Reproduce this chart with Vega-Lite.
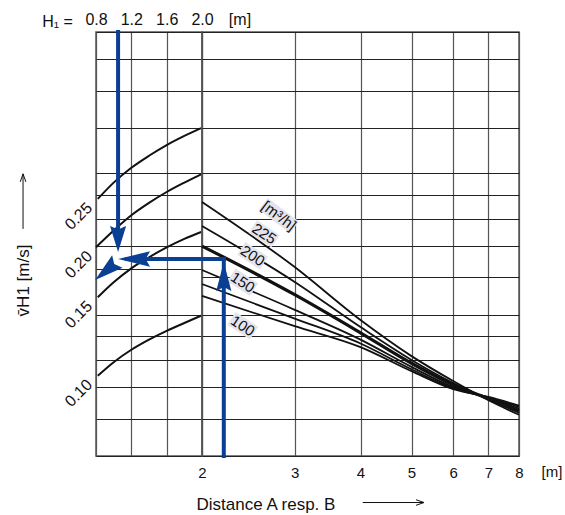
{
  "$schema": "https://vega.github.io/schema/vega-lite/v6.json",
  "background": "white",
  "padding": {"left": 13, "top": 10, "right": 5, "bottom": 5},
  "spacing": 0,
  "bounds": "flush",
  "config": {
    "font": "Liberation Sans",
    "view": {"stroke": "#555", "strokeWidth": 1.5},
    "axis": {"gridColor": "#222", "gridWidth": 1, "labelColor": "#111", "titleColor": "#111", "titleFontWeight": "normal", "tickCount": 40}
  },
  "datasets": {
    "left_curves": [
      {"c": "0.25", "h": 0.82, "v": 0.1764}, {"c": "0.25", "h": 1.0, "v": 0.1911}, {"c": "0.25", "h": 1.2, "v": 0.2055}, {"c": "0.25", "h": 1.4, "v": 0.218}, {"c": "0.25", "h": 1.6, "v": 0.2297}, {"c": "0.25", "h": 1.8, "v": 0.2403}, {"c": "0.25", "h": 1.99, "v": 0.2497},
      {"c": "0.20", "h": 0.8, "v": 0.1392}, {"c": "0.20", "h": 1.0, "v": 0.1511}, {"c": "0.20", "h": 1.2, "v": 0.1628}, {"c": "0.20", "h": 1.4, "v": 0.173}, {"c": "0.20", "h": 1.6, "v": 0.1825}, {"c": "0.20", "h": 1.8, "v": 0.1911}, {"c": "0.20", "h": 1.99, "v": 0.199},
      {"c": "0.15", "h": 0.82, "v": 0.1089}, {"c": "0.15", "h": 1.0, "v": 0.1172}, {"c": "0.15", "h": 1.2, "v": 0.1255}, {"c": "0.15", "h": 1.4, "v": 0.1325}, {"c": "0.15", "h": 1.6, "v": 0.1391}, {"c": "0.15", "h": 1.8, "v": 0.145}, {"c": "0.15", "h": 1.99, "v": 0.15},
      {"c": "0.10", "h": 0.82, "v": 0.0741}, {"c": "0.10", "h": 1.0, "v": 0.0792}, {"c": "0.10", "h": 1.2, "v": 0.0842}, {"c": "0.10", "h": 1.4, "v": 0.0885}, {"c": "0.10", "h": 1.6, "v": 0.0924}, {"c": "0.10", "h": 1.8, "v": 0.096}, {"c": "0.10", "h": 1.99, "v": 0.0995}
    ],
    "left_labels": [
      {"t": "0.25", "h": 0.8, "v": 0.1764},
      {"t": "0.20", "h": 0.8, "v": 0.1392},
      {"t": "0.15", "h": 0.8, "v": 0.1089},
      {"t": "0.10", "h": 0.8, "v": 0.0741}
    ],
    "top_unit": [{"t": "[m]", "h": 2.43, "v": 0.4133}],
    "bottom_unit": [{"t": "[m]", "d": 9.24, "v": 0.045}],
    "right_curves": [
      {"q": 225, "d": 2, "v": 0.1738}, {"q": 225, "d": 3, "v": 0.1263}, {"q": 225, "d": 4, "v": 0.0974}, {"q": 225, "d": 5, "v": 0.0816}, {"q": 225, "d": 6, "v": 0.0722}, {"q": 225, "d": 7, "v": 0.0657}, {"q": 225, "d": 8, "v": 0.0612},
      {"q": 200, "d": 2, "v": 0.1545}, {"q": 200, "d": 3, "v": 0.1174}, {"q": 200, "d": 4, "v": 0.0941}, {"q": 200, "d": 5, "v": 0.0801}, {"q": 200, "d": 6, "v": 0.0715}, {"q": 200, "d": 7, "v": 0.066}, {"q": 200, "d": 8, "v": 0.0618},
      {"q": 175, "d": 2, "v": 0.14}, {"q": 175, "d": 3, "v": 0.1103}, {"q": 175, "d": 4, "v": 0.0915}, {"q": 175, "d": 5, "v": 0.0788}, {"q": 175, "d": 6, "v": 0.0709}, {"q": 175, "d": 7, "v": 0.0662}, {"q": 175, "d": 8, "v": 0.0624},
      {"q": 150, "d": 2, "v": 0.1245}, {"q": 150, "d": 3, "v": 0.1024}, {"q": 150, "d": 4, "v": 0.0885}, {"q": 150, "d": 5, "v": 0.0774}, {"q": 150, "d": 6, "v": 0.0701}, {"q": 150, "d": 7, "v": 0.0665}, {"q": 150, "d": 8, "v": 0.0631},
      {"q": 125, "d": 2, "v": 0.1162}, {"q": 125, "d": 3, "v": 0.0981}, {"q": 125, "d": 4, "v": 0.0868}, {"q": 125, "d": 5, "v": 0.0765}, {"q": 125, "d": 6, "v": 0.0697}, {"q": 125, "d": 7, "v": 0.0666}, {"q": 125, "d": 8, "v": 0.0636},
      {"q": 100, "d": 2, "v": 0.1096}, {"q": 100, "d": 3, "v": 0.0945}, {"q": 100, "d": 4, "v": 0.0853}, {"q": 100, "d": 5, "v": 0.0758}, {"q": 100, "d": 6, "v": 0.0694}, {"q": 100, "d": 7, "v": 0.0668}, {"q": 100, "d": 8, "v": 0.064}
    ],
    "qlabels": [
      {"t": "225", "d": 2.626, "v": 0.1486},
      {"t": "200", "d": 2.496, "v": 0.1335},
      {"t": "150", "d": 2.39, "v": 0.1172},
      {"t": "100", "d": 2.39, "v": 0.0947}
    ],
    "qunit": [{"t": "[m³/h]", "d": 2.8, "v": 0.1625}],
    "blue_left": [
      {"h": 1.05, "h2": 1.05, "v": 0.4, "v2": 0.142},
      {"h": 1.15, "h2": 2.0, "v": 0.1314, "v2": 0.1314}
    ],
    "blue_right": [
      {"d": 2.2, "d2": 2.2, "v": 0.05, "v2": 0.1314},
      {"d": 2.0, "d2": 2.2, "v": 0.1314, "v2": 0.1314}
    ],
    "head_down": [{"h": 1.05, "v": 0.136}],
    "head_left": [{"h": 1.05, "v": 0.1314}],
    "head_diag": [{"h": 0.79, "v": 0.1185}],
    "head_up": [{"d": 2.2, "v": 0.1295}],
    "ytitle_arrow": [{"h": -0.026, "v": 0.1523, "v2": 0.1995}],
    "ytitle_tip": [{"h": -0.026, "v": 0.1995}],
    "xtitle_arrow": [{"d": 4.04, "d2": 5.28, "v": 0.0398}],
    "xtitle_tip": [{"d": 5.28, "v": 0.0398}]
  },
  "hconcat": [
    {
      "width": 106,
      "height": 424,
      "layer": [
        {
          "data": {"name": "left_curves"},
          "mark": {"type": "line", "color": "#111", "strokeWidth": 2, "interpolate": "monotone"},
          "encoding": {
            "x": {
              "field": "h", "type": "quantitative",
              "scale": {"domain": [0.8, 2.0], "nice": false, "zero": false},
              "axis": {
                "orient": "top", "values": [0.8, 1.2, 1.6, 2.0], "tickCount": 40,
                "labelExpr": "format(datum.value, '.1f')",
                "grid": true, "gridColor": "#555", "gridWidth": 1.2,
                "ticks": false, "domain": false, "labelPadding": 5, "labelFontSize": 16,
                "labelOverlap": false, "labelFlush": false,
                "title": "H₁ =", "titleFontSize": 16, "titleX": -39, "titleY": -6,
                "titleAlign": "center", "titleBaseline": "alphabetic"
              }
            },
            "y": {
              "field": "v", "type": "quantitative",
              "scale": {"type": "log", "domain": [0.05, 0.4], "nice": false},
              "axis": {
                "values": [0.05, 0.06, 0.07, 0.08, 0.09, 0.1, 0.125, 0.14, 0.16, 0.18, 0.2, 0.25, 0.3, 0.35, 0.4], "tickCount": 40,
                "grid": true, "labels": false, "ticks": false, "domain": false,
                "title": "v̄H1   [m/s]", "titleFontSize": 17, "titleAngle": 270,
                "titleX": -73, "titleY": 248, "titleAlign": "center", "titleBaseline": "middle"
              }
            },
            "detail": {"field": "c", "type": "nominal"}
          }
        },
        {
          "data": {"name": "left_labels"},
          "mark": {"type": "text", "angle": 315, "align": "right", "baseline": "middle", "dx": -9, "fontSize": 16, "color": "#111"},
          "encoding": {
            "x": {"field": "h", "type": "quantitative"},
            "y": {"field": "v", "type": "quantitative"},
            "text": {"field": "t"}
          }
        },
        {
          "data": {"name": "top_unit"},
          "mark": {"type": "text", "align": "center", "baseline": "alphabetic", "fontSize": 16, "color": "#111"},
          "encoding": {
            "x": {"field": "h", "type": "quantitative"},
            "y": {"field": "v", "type": "quantitative"},
            "text": {"field": "t"}
          }
        },
        {
          "data": {"name": "blue_left"},
          "mark": {"type": "rule", "color": "#0a3f93", "strokeWidth": 4, "strokeCap": "square"},
          "encoding": {
            "x": {"field": "h", "type": "quantitative"},
            "x2": {"field": "h2"},
            "y": {"field": "v", "type": "quantitative"},
            "y2": {"field": "v2"}
          }
        },
        {
          "data": {"name": "head_down"},
          "mark": {"type": "point", "shape": "M0,0L0.31,1L0,0.86L-0.31,1Z", "filled": true, "opacity": 1, "color": "#0a3f93", "size": 2704, "angle": 180},
          "encoding": {
            "x": {"field": "h", "type": "quantitative"},
            "y": {"field": "v", "type": "quantitative"}
          }
        },
        {
          "data": {"name": "head_left"},
          "mark": {"type": "point", "shape": "M0,0L0.24,1L0,0.86L-0.24,1Z", "filled": true, "opacity": 1, "color": "#0a3f93", "size": 4096, "angle": 270},
          "encoding": {
            "x": {"field": "h", "type": "quantitative"},
            "y": {"field": "v", "type": "quantitative"}
          }
        },
        {
          "data": {"name": "head_diag"},
          "mark": {"type": "point", "shape": "M0,0L0.28,1L0,0.86L-0.28,1Z", "filled": true, "opacity": 1, "color": "#0a3f93", "size": 3364, "angle": 230},
          "encoding": {
            "x": {"field": "h", "type": "quantitative"},
            "y": {"field": "v", "type": "quantitative"}
          }
        },
        {
          "data": {"name": "ytitle_arrow"},
          "mark": {"type": "rule", "color": "#111", "strokeWidth": 1},
          "encoding": {
            "x": {"field": "h", "type": "quantitative"},
            "y": {"field": "v", "type": "quantitative"},
            "y2": {"field": "v2"}
          }
        },
        {
          "data": {"name": "ytitle_tip"},
          "mark": {"type": "point", "shape": "M-1,-0.35L0,0L-1,0.35", "filled": false, "opacity": 1, "color": "#111", "strokeWidth": 1, "size": 256, "angle": 270},
          "encoding": {
            "x": {"field": "h", "type": "quantitative"},
            "y": {"field": "v", "type": "quantitative"}
          }
        }
      ]
    },
    {
      "width": 317,
      "height": 424,
      "layer": [
        {
          "data": {"name": "right_curves"},
          "transform": [{"filter": "datum.q != 175"}],
          "mark": {"type": "line", "color": "#111", "strokeWidth": 1.8, "interpolate": "monotone"},
          "encoding": {
            "x": {
              "field": "d", "type": "quantitative",
              "scale": {"type": "log", "domain": [2, 8], "nice": false},
              "axis": {
                "values": [2, 3, 4, 5, 6, 7, 8], "tickCount": 40,
                "labelExpr": "format(datum.value, 'd')",
                "grid": true, "gridColor": "#555", "gridWidth": 1.2,
                "ticks": false, "domain": false, "labelPadding": 9, "labelFontSize": 15,
                "labelOverlap": false, "labelFlush": false,
                "title": "Distance A resp. B", "titleFontSize": 17, "titleX": -6, "titleY": 53,
                "titleAlign": "left", "titleBaseline": "alphabetic"
              }
            },
            "y": {
              "field": "v", "type": "quantitative",
              "scale": {"type": "log", "domain": [0.05, 0.4], "nice": false},
              "axis": {
                "values": [0.05, 0.06, 0.07, 0.08, 0.09, 0.1, 0.12, 0.14, 0.16, 0.18, 0.2, 0.25, 0.3, 0.35, 0.4], "tickCount": 40,
                "grid": true, "labels": false, "ticks": false, "domain": false, "title": null
              }
            },
            "detail": {"field": "q", "type": "nominal"}
          }
        },
        {
          "data": {"name": "right_curves"},
          "transform": [{"filter": "datum.q == 175"}],
          "mark": {"type": "line", "color": "#111", "strokeWidth": 3.2, "interpolate": "monotone"},
          "encoding": {
            "x": {"field": "d", "type": "quantitative"},
            "y": {"field": "v", "type": "quantitative"}
          }
        },
        {
          "data": {"name": "qlabels"},
          "mark": {"type": "point", "shape": "M-1,-0.56L1,-0.56L1,0.56L-1,0.56Z", "filled": true, "opacity": 1, "color": "#e4e4ee", "size": 729, "angle": 33},
          "encoding": {
            "x": {"field": "d", "type": "quantitative"},
            "y": {"field": "v", "type": "quantitative"}
          }
        },
        {
          "data": {"name": "qunit"},
          "mark": {"type": "point", "shape": "M-1,-0.38L1,-0.38L1,0.38L-1,0.38Z", "filled": true, "opacity": 1, "color": "#e4e4ee", "size": 1521, "angle": 37},
          "encoding": {
            "x": {"field": "d", "type": "quantitative"},
            "y": {"field": "v", "type": "quantitative"}
          }
        },
        {
          "data": {"name": "qlabels"},
          "mark": {"type": "text", "angle": 33, "align": "center", "baseline": "middle", "fontSize": 15, "color": "#111"},
          "encoding": {
            "x": {"field": "d", "type": "quantitative"},
            "y": {"field": "v", "type": "quantitative"},
            "text": {"field": "t"}
          }
        },
        {
          "data": {"name": "qunit"},
          "mark": {"type": "text", "angle": 37, "align": "center", "baseline": "middle", "fontSize": 15, "color": "#111"},
          "encoding": {
            "x": {"field": "d", "type": "quantitative"},
            "y": {"field": "v", "type": "quantitative"},
            "text": {"field": "t"}
          }
        },
        {
          "data": {"name": "bottom_unit"},
          "mark": {"type": "text", "align": "center", "baseline": "alphabetic", "fontSize": 15, "color": "#111"},
          "encoding": {
            "x": {"field": "d", "type": "quantitative"},
            "y": {"field": "v", "type": "quantitative"},
            "text": {"field": "t"}
          }
        },
        {
          "data": {"name": "blue_right"},
          "mark": {"type": "rule", "color": "#0a3f93", "strokeWidth": 4, "strokeCap": "square"},
          "encoding": {
            "x": {"field": "d", "type": "quantitative"},
            "x2": {"field": "d2"},
            "y": {"field": "v", "type": "quantitative"},
            "y2": {"field": "v2"}
          }
        },
        {
          "data": {"name": "head_up"},
          "mark": {"type": "point", "shape": "M0,0L0.26,1L0,0.86L-0.26,1Z", "filled": true, "opacity": 1, "color": "#0a3f93", "size": 3364, "angle": 0},
          "encoding": {
            "x": {"field": "d", "type": "quantitative"},
            "y": {"field": "v", "type": "quantitative"}
          }
        },
        {
          "data": {"name": "xtitle_arrow"},
          "mark": {"type": "rule", "color": "#111", "strokeWidth": 1},
          "encoding": {
            "x": {"field": "d", "type": "quantitative"},
            "x2": {"field": "d2"},
            "y": {"field": "v", "type": "quantitative"}
          }
        },
        {
          "data": {"name": "xtitle_tip"},
          "mark": {"type": "point", "shape": "M-1,-0.35L0,0L-1,0.35", "filled": false, "opacity": 1, "color": "#111", "strokeWidth": 1, "size": 256, "angle": 0},
          "encoding": {
            "x": {"field": "d", "type": "quantitative"},
            "y": {"field": "v", "type": "quantitative"}
          }
        }
      ]
    }
  ]
}
